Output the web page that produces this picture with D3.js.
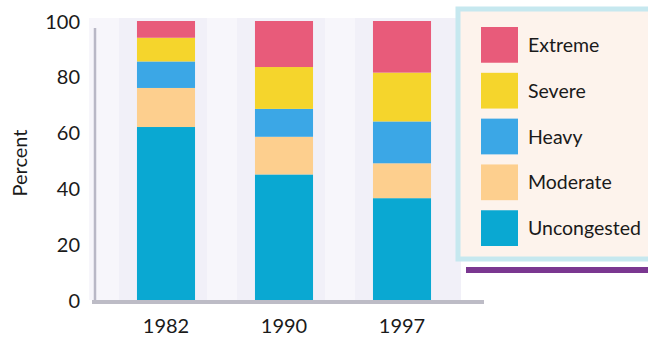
<!DOCTYPE html>
<html>
<head>
<meta charset="utf-8">
<script src="https://cdn.jsdelivr.net/npm/d3@7"></script>
<style>
  body { margin: 0; background: #fff; }
  svg { display: block; font-family: Lato, "DejaVu Sans", sans-serif; }
</style>
</head>
<body>
<svg id="chart" width="648" height="339"></svg>
<script>
"use strict";

// data (percent of travel by congestion level)
var years = ["1982", "1990", "1997"];
var levels = ["Uncongested", "Moderate", "Heavy", "Severe", "Extreme"];
var uncongested = [62, 45, 36.5];
var moderate = [14, 13.5, 12.5];
var heavy = [9.5, 10, 15];
var severe = [8.5, 15, 17.5];
var extreme = [6, 16.5, 18.5];
var yTicks = [0, 20, 40, 60, 80, 100];

var colours = {
    Uncongested: "#0aa8d2",
    Moderate: "#fdcf8e",
    Heavy: "#3ba7e6",
    Severe: "#f5d52c",
    Extreme: "#e85b7a"
};

var rows = years.map(function (y, i) {
    return {
        year: y,
        Uncongested: uncongested[i],
        Moderate: moderate[i],
        Heavy: heavy[i],
        Severe: severe[i],
        Extreme: extreme[i]
    };
});

var svg = d3.select("#chart");

var x = d3.scaleBand()
    .domain(years)
    .range([107, 461])
    .paddingInner(0.508)
    .paddingOuter(0.254);

var y = d3.scaleLinear()
    .domain([0, 100])
    .range([300, 21]);

// plot panel background
svg.append("rect")
    .attr("x", 96)
    .attr("y", 18)
    .attr("width", 365)
    .attr("height", 282)
    .attr("fill", "#f1f0f8");

// faint light stripes between bars
svg.append("g")
    .selectAll("rect")
    .data(years)
    .join("rect")
    .attr("x", function (d) { return x(d) - 48; })
    .attr("y", 18)
    .attr("width", 30)
    .attr("height", 282)
    .attr("fill", "#f7f6fb");

// left axis line
svg.append("line")
    .attr("x1", 95).attr("x2", 95)
    .attr("y1", y(97.5)).attr("y2", y(0))
    .attr("stroke", "#b9b8c6")
    .attr("stroke-width", 2.5);

// stacked bars
var stack = d3.stack().keys(levels);
var series = stack(rows);

svg.append("g")
    .selectAll("g")
    .data(series)
    .join("g")
    .attr("fill", function (d) { return colours[d.key]; })
    .selectAll("rect")
    .data(function (d) { return d; })
    .join("rect")
    .attr("x", function (d) { return x(d.data.year); })
    .attr("y", function (d) { return y(d[1]); })
    .attr("width", x.bandwidth())
    .attr("height", function (d) { return y(d[0]) - y(d[1]); });

// bottom axis band
svg.append("rect")
    .attr("x", 92)
    .attr("y", y(0))
    .attr("width", 392)
    .attr("height", 4)
    .attr("fill", "#bdbcc6");

// y tick labels
svg.append("g")
    .selectAll("text")
    .data(yTicks)
    .join("text")
    .attr("x", 80)
    .attr("y", function (d) { return y(d); })
    .attr("dy", "0.38em")
    .attr("text-anchor", "end")
    .attr("font-size", 20)
    .attr("fill", "#1a1a1a")
    .text(function (d) { return d; });

// x labels
svg.append("g")
    .selectAll("text")
    .data(years)
    .join("text")
    .attr("x", function (d) { return x(d) + x.bandwidth() / 2; })
    .attr("y", 333)
    .attr("text-anchor", "middle")
    .attr("font-size", 20)
    .attr("fill", "#1a1a1a")
    .text(function (d) { return d; });

// y axis title
svg.append("text")
    .attr("transform", "translate(27, 163) rotate(-90)")
    .attr("text-anchor", "middle")
    .attr("font-size", 20)
    .attr("fill", "#1a1a1a")
    .text("Percent");

// legend box
svg.append("rect")
    .attr("x", 466)
    .attr("y", 267)
    .attr("width", 190)
    .attr("height", 6)
    .attr("fill", "#7a3790");

svg.append("rect")
    .attr("x", 458)
    .attr("y", 9)
    .attr("width", 200)
    .attr("height", 250)
    .attr("fill", "#fdf3ec")
    .attr("stroke", "#c6e8ef")
    .attr("stroke-width", 5);

var legendOrder = levels.slice().reverse();
var ly = d3.scaleBand()
    .domain(legendOrder)
    .range([27, 246])
    .paddingInner(0.22);

var legend = svg.append("g")
    .selectAll("g")
    .data(legendOrder)
    .join("g");

legend.append("rect")
    .attr("x", 481)
    .attr("y", function (d) { return ly(d); })
    .attr("width", 37)
    .attr("height", ly.bandwidth())
    .attr("fill", function (d) { return colours[d]; });

legend.append("text")
    .attr("x", 528)
    .attr("y", function (d) { return ly(d) + ly.bandwidth() / 2; })
    .attr("dy", "0.36em")
    .attr("font-size", 19.5)
    .attr("fill", "#1a1a1a")
    .text(function (d) { return d; });
</script>
</body>
</html>
